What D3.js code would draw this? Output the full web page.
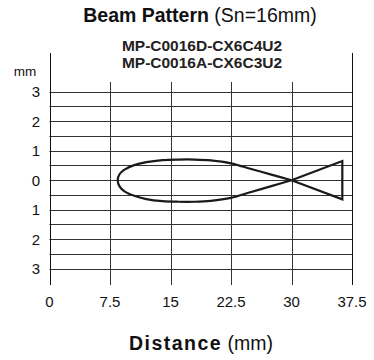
<!DOCTYPE html>
<html>
<head>
<meta charset="utf-8">
<script src="https://cdn.jsdelivr.net/npm/d3@7"></script>
<style>
  html, body { margin: 0; padding: 0; background: #fff; }
  svg { display: block; font-family: "Liberation Sans", Arial, sans-serif; }
</style>
</head>
<body>
<svg id="chart" width="374" height="360"></svg>
<script>
// Sensing distance along the axis (mm)
const xTicks = [0, 7.5, 15, 22.5, 30, 37.5];
const xTickLabels = ["0", "7.5", "15", "22.5", "30", "37.5"];
// Lateral offset (mm)
const yTicks = [3, 2, 1, 0, -1, -2, -3];
const yTickLabels = ["3", "2", "1", "0", "1", "2", "3"];
const yGrid = [3, 2.5, 2, 1.5, 1, 0.5, 0, -0.5, -1, -1.5, -2, -2.5, -3];

// Lobe outline: distance, upper edge, lower edge
const lobeX     = [8.45, 8.7,  9.3,   10.5,  12,    14,    16,    18,    20,    22.5,  25,    27.5,  30];
const lobeUpper = [0,    0.21, 0.36,  0.51,  0.61,  0.68,  0.70,  0.70,  0.67,  0.57,  0.38,  0.19,  0];
const lobeLower = [0,   -0.22, -0.38, -0.53, -0.64, -0.71, -0.73, -0.73, -0.70, -0.60, -0.40, -0.20, 0];

// Side lobe beyond the crossing point
const tailX = [30, 36.3, 36.3, 30];
const tailY = [0, -0.65, 0.65, 0];

const svg = d3.select("#chart");

const x = d3.scaleLinear().domain([0, 37.5]).range([49.5, 352]);
const y = d3.scaleLinear().domain([-3, 3]).range([268.7, 91.7]);

const frameTop = 53, innerTop = 82, frameBottom = 285;
const gridColor = "#333";

// Horizontal grid lines every 0.5 mm
svg.append("g").selectAll("line").data(yGrid).join("line")
  .attr("x1", x(0)).attr("x2", x(37.5))
  .attr("y1", d => Math.round(y(d)) + 0.5).attr("y2", d => Math.round(y(d)) + 0.5)
  .attr("stroke", gridColor).attr("stroke-width", 1);

// Vertical lines at each distance tick; the outer two frame the plot
svg.append("g").selectAll("line").data(xTicks).join("line")
  .attr("x1", d => Math.round(x(d)) + 0.5).attr("x2", d => Math.round(x(d)) + 0.5)
  .attr("y1", (d, i) => (i === 0 || i === xTicks.length - 1) ? frameTop : innerTop)
  .attr("y2", frameBottom)
  .attr("stroke", (d, i) => (i === 0 || i === xTicks.length - 1) ? "#111" : gridColor)
  .attr("stroke-width", 1);

// Distance tick labels
svg.append("g").selectAll("text").data(xTicks).join("text")
  .attr("x", d => x(d)).attr("y", 307)
  .attr("text-anchor", "middle")
  .attr("font-size", 15).attr("fill", "#111")
  .text((d, i) => xTickLabels[i]);

// Offset tick labels
svg.append("g").selectAll("text").data(yTicks).join("text")
  .attr("x", 40).attr("y", d => y(d) + 5.5)
  .attr("text-anchor", "end")
  .attr("font-size", 15).attr("fill", "#111")
  .text((d, i) => yTickLabels[i]);

svg.append("text").attr("x", 25).attr("y", 76)
  .attr("text-anchor", "middle").attr("font-size", 13.5).attr("fill", "#111")
  .text("mm");

// Beam lobe, traced from the crossing point over the top, round the nose and back
const lobeOpen = d3.line().x(d => x(d[0])).y(d => y(d[1])).curve(d3.curveCatmullRom.alpha(0.5));
const upperPts = lobeX.map((d, i) => [d, lobeUpper[i]]).reverse();
const lowerPts = lobeX.map((d, i) => [d, lobeLower[i]]);
svg.append("path")
  .attr("d", lobeOpen(upperPts.concat(lowerPts.slice(1))))
  .attr("fill", "none").attr("stroke", "#1a1a1a").attr("stroke-width", 2.2)
  .attr("stroke-linejoin", "round");

svg.append("path")
  .attr("d", d3.line().x(d => x(d)).y((d, i) => y(tailY[i]))(tailX))
  .attr("fill", "none").attr("stroke", "#1a1a1a").attr("stroke-width", 2.2)
  .attr("stroke-linejoin", "miter");

// Titles
const title = svg.append("text").attr("x", 200).attr("y", 22)
  .attr("text-anchor", "middle").attr("font-size", 19.5).attr("fill", "#111");
title.append("tspan").attr("font-weight", "bold").text("Beam Pattern");
title.append("tspan").text(" (Sn=16mm)");

svg.append("text").attr("x", 202).attr("y", 51)
  .attr("text-anchor", "middle").attr("font-size", 15.5).attr("font-weight", "bold").attr("fill", "#222")
  .text("MP-C0016D-CX6C4U2");
svg.append("text").attr("x", 202).attr("y", 67.5)
  .attr("text-anchor", "middle").attr("font-size", 15.5).attr("font-weight", "bold").attr("fill", "#222")
  .text("MP-C0016A-CX6C3U2");

const xTitle = svg.append("text").attr("x", 201).attr("y", 350)
  .attr("text-anchor", "middle").attr("font-size", 19.5).attr("fill", "#111");
xTitle.append("tspan").attr("font-weight", "bold").attr("letter-spacing", 1.5).text("Distance");
xTitle.append("tspan").text(" (mm)");
</script>
</body>
</html>
